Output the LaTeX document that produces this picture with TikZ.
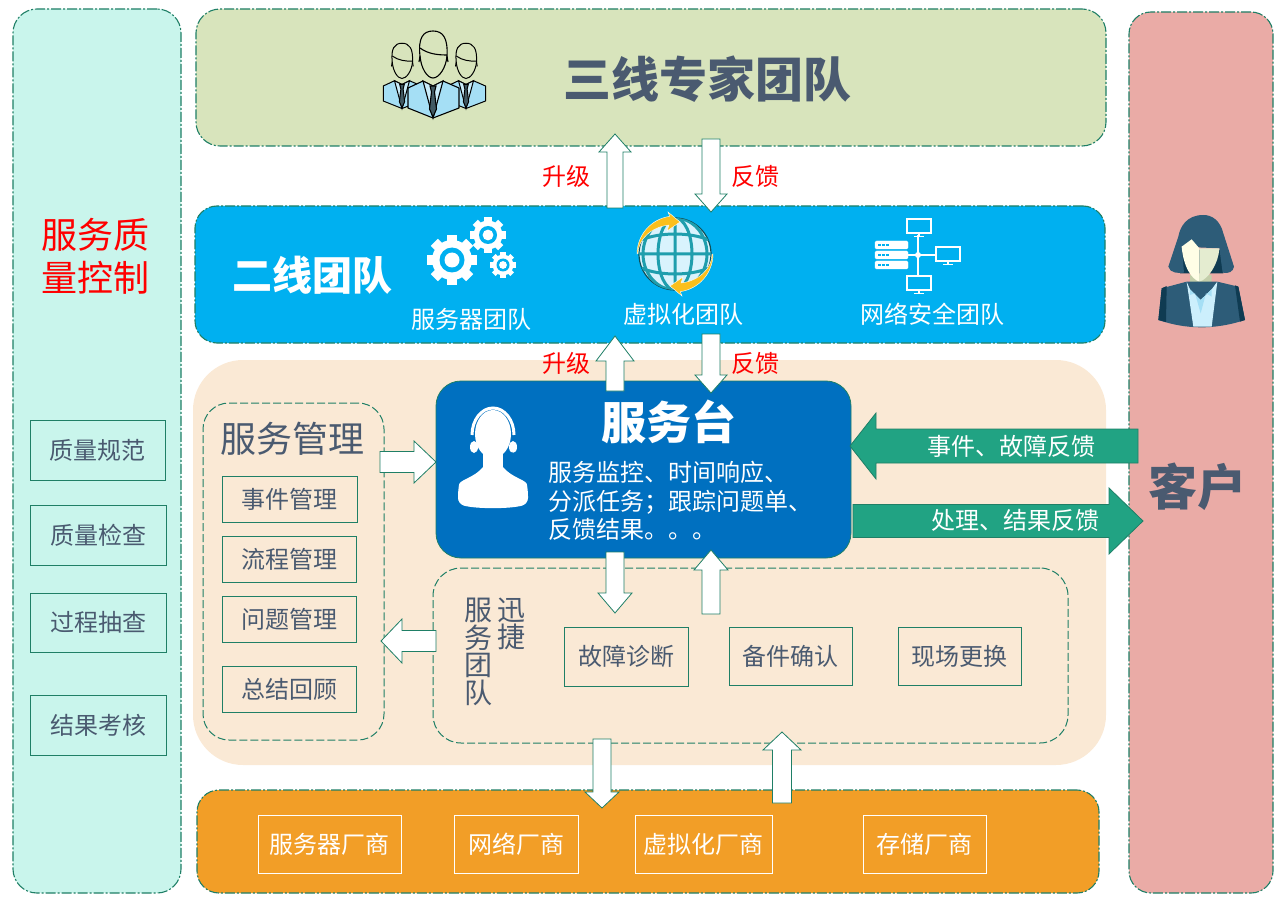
\documentclass[tikz,border=0pt]{standalone}
\usepackage{fontspec}
\setmainfont{Noto Sans CJK SC}
\usetikzlibrary{calc}
\definecolor{LineGreen}{HTML}{1F7F66}
\definecolor{ArrowGreen}{HTML}{21A383}
\definecolor{SlateText}{HTML}{4A5A70}
\definecolor{SuitBlue}{HTML}{A5DFF5}
\definecolor{HairBlue}{HTML}{2D5C78}
\definecolor{DeepBlue}{HTML}{0F3B52}
\definecolor{QualityFill}{HTML}{C9F5EC}
\definecolor{TopGreen}{HTML}{D8E4BC}
\definecolor{BlueBand}{HTML}{00B0F0}
\definecolor{PeachFill}{HTML}{FAE9D5}
\definecolor{PinkFill}{HTML}{EAABA6}
\definecolor{OrangeFill}{HTML}{F29E27}
\definecolor{DeskBlue}{HTML}{0070C0}
\definecolor{GlobeYellow}{HTML}{FBBF1C}
\definecolor{GlobeTeal}{HTML}{1F9EAD}
\tikzset{
  panel/.style={rectangle,rounded corners=24,draw=LineGreen,line width=1.1,
    dash pattern=on 10pt off 2pt on 2pt off 2pt,
    preaction={draw=white,solid,line width=1.6},inner sep=0,outer sep=0},
  dashpanel/.style={rectangle,draw=LineGreen,line width=1,dash pattern=on 8pt off 3pt,
    inner sep=0,outer sep=0},
  itembox/.style={rectangle,draw=LineGreen,line width=1,inner sep=0,outer sep=0,
    text=SlateText,font=\fontsize{24}{28}\selectfont},
  vendorbox/.style={rectangle,draw=white,line width=0.8,inner sep=0,outer sep=0,
    text=white,font=\fontsize{24}{28}\selectfont},
  redlabel/.style={text=red,font=\fontsize{24}{28}\selectfont},
  whitelabel/.style={text=white,font=\fontsize{24}{28}\selectfont},
  blockarrow/.style n args={3}{to path={let \p1=($(\tikztotarget)!#3!(\tikztostart)$) in
    ($(\tikztostart)!#1!90:(\tikztotarget)$) -- ($(\p1)!#1!90:(\tikztotarget)$)
    -- ($(\p1)!#2!90:(\tikztotarget)$) -- (\tikztotarget)
    -- ($(\p1)!#2!-90:(\tikztotarget)$) -- ($(\p1)!#1!-90:(\tikztotarget)$)
    -- ($(\tikztostart)!#1!-90:(\tikztotarget)$) -- cycle}},
  whitearrow/.style={draw=LineGreen,fill=white,line width=0.8},
  greenarrow/.style={draw=LineGreen,fill=ArrowGreen,line width=0.8}
}
\newcommand{\gearicon}[3]{%
  \foreach \a in {0,45,...,315}
    \fill[white,rotate around={\a:(#1,#2)}] (#1-0.2*#3,#2-#3) rectangle (#1+0.2*#3,#2-0.7*#3);
  \fill[white] (#1,#2) circle [radius=0.8*#3];
  \fill[BlueBand] (#1,#2) circle [radius=0.5*#3];
  \fill[white] (#1,#2) circle [radius=0.3*#3];
}
\newcommand{\suitman}[4]{%
  \begin{scope}[shift={(#1,#2)},x=#3pt,y=-#3pt,line width=#4,draw=black]
    \draw[fill=SuitBlue,line join=round] (-25,20) -- (-10,13) -- (0,18) -- (10,13) -- (26,20)
      -- (26,40) -- (0,50) -- (-25,40) -- cycle;
    \draw[fill=SuitBlue!60!white] (-10,13) -- (0,50) -- (10,13) -- (0,18) -- cycle;
    \draw[fill=SuitBlue!40!black] (-3,18) -- (3,18) -- (1.5,24) -- (3.5,41) -- (0,49)
      -- (-3.5,41) -- (-1.5,24) -- cycle;
    \draw[fill=TopGreen] (-13,-12) .. controls (-15,-30) and (-10,-37) .. (0,-37)
      .. controls (10,-37) and (15,-30) .. (14,-12)
      .. controls (13,0) and (6,10) .. (0,10)
      .. controls (-6,10) and (-12,0) .. (-13,-12) -- cycle;
    \draw (-13,-20) .. controls (-5,-14) and (5,-13) .. (14,-13);
    \draw (-13,-12) -- (-14,-6) (14,-12) -- (15,-6);
  \end{scope}
}
\newcommand{\monitoricon}[2]{%
  \draw[white,line width=1.4] (#1-12,#2-7) rectangle (#1+12,#2+7);
  \draw[white,line width=1.4] (#1,#2+7) -- (#1,#2+10) (#1-5,#2+10.5) -- (#1+5,#2+10.5);
}
\begin{document}
\begin{tikzpicture}[x=1pt,y=-1pt]
  \useasboundingbox (0,0) rectangle (1285,909);
  %Panels
  \node[panel,fill=QualityFill,minimum width=168,minimum height=884] (Quality) at (97,451) {};
  \node[panel,fill=PinkFill,minimum width=144,minimum height=881,rounded corners=22] (Customer) at (1201,452.5) {};
  \node[panel,fill=TopGreen,minimum width=910,minimum height=137] (ThirdLine) at (651,77.5) {};
  \node[panel,fill=BlueBand,minimum width=910,minimum height=137,rounded corners=22] (SecondLine) at (650,274.5) {};
  \node[rectangle,fill=PeachFill,rounded corners=50,minimum width=913,minimum height=405,inner sep=0] (Onsite) at (649.5,562.5) {};
  \node[panel,fill=OrangeFill,minimum width=902,minimum height=103,rounded corners=22] (Vendors) at (648,841.5) {};
  \node[dashpanel,rounded corners=26,minimum width=181,minimum height=337] (Manage) at (293.5,571.5) {};
  \node[dashpanel,rounded corners=28,minimum width=635,minimum height=175] (Quick) at (750.5,655.5) {};
  \node[rectangle,rounded corners=25,draw=LineGreen,fill=DeskBlue,line width=0.8,minimum width=415,minimum height=177,inner sep=0] (Desk) at (643.5,469.5) {};

  %Titles
  \node[text=SlateText,font=\fontsize{48}{52}\selectfont\bfseries] (ThirdTitle) at (707.5,79) {三线专家团队};
  \node[text=white,font=\fontsize{40}{44}\selectfont\bfseries] (SecondTitle) at (312,275) {二线团队};
  \node[text=white,font=\fontsize{45}{48}\selectfont\bfseries] (DeskTitle) at (669,422) {服务台};
  \node[text=SlateText,font=\fontsize{49}{52}\selectfont\bfseries] (CustomerTitle) at (1197,487) {客户};
  \node[text=SlateText,font=\fontsize{36}{40}\selectfont] (ManageTitle) at (292,439) {服务管理};
  \node[text=red,align=center,font=\fontsize{36}{43}\selectfont] (QualityTitle) at (95,256) {服务质\\量控制};
  \node[text=SlateText,align=center,font=\fontsize{28}{27.5}\selectfont] (QuickLeft) at (478,652) {服\\务\\团\\队};
  \node[text=SlateText,align=center,font=\fontsize{28}{27.5}\selectfont] (QuickRight) at (511,624) {迅\\捷};
  \node[anchor=west,inner sep=0,align=left,text=white,font=\fontsize{24}{28.5}\selectfont] (DeskText) at (548,501)
    {服务监控、时间响应、\\分派任务；跟踪问题单、\\反馈结果。。。};
  \node[whitelabel] (ServerTeam) at (471,319) {服务器团队};
  \node[whitelabel] (CloudTeam) at (683,314) {虚拟化团队};
  \node[whitelabel] (SecurityTeam) at (932,314) {网络安全团队};

  %Boxes
  \node[itembox,minimum width=135,minimum height=60] (QualityA) at (97.5,450) {质量规范};
  \node[itembox,minimum width=136,minimum height=60] (QualityB) at (98,535) {质量检查};
  \node[itembox,minimum width=136,minimum height=59] (QualityC) at (98,622.5) {过程抽查};
  \node[itembox,minimum width=136,minimum height=60] (QualityD) at (98,725) {结果考核};
  \node[itembox,minimum width=135,minimum height=46] (ManageA) at (289.5,499) {事件管理};
  \node[itembox,minimum width=134,minimum height=46] (ManageB) at (289,559) {流程管理};
  \node[itembox,minimum width=134,minimum height=46] (ManageC) at (289,619) {问题管理};
  \node[itembox,minimum width=134,minimum height=46] (ManageD) at (289,689) {总结回顾};
  \node[itembox,minimum width=124,minimum height=59] (QuickA) at (626,656.5) {故障诊断};
  \node[itembox,minimum width=123,minimum height=58] (QuickB) at (790.5,656) {备件确认};
  \node[itembox,minimum width=123,minimum height=58] (QuickC) at (959.5,656) {现场更换};
  \node[vendorbox,minimum width=143,minimum height=58] (VendorA) at (329.5,844) {服务器厂商};
  \node[vendorbox,minimum width=124,minimum height=58] (VendorB) at (516,844) {网络厂商};
  \node[vendorbox,minimum width=137,minimum height=58] (VendorC) at (703.5,844) {虚拟化厂商};
  \node[vendorbox,minimum width=123,minimum height=58] (VendorD) at (924.5,844) {存储厂商};

  %Arrows
  \coordinate (UpThirdTail) at (615,208);   \coordinate (UpThirdTip) at (615,134);
  \coordinate (DownThirdTail) at (711,139); \coordinate (DownThirdTip) at (711,212);
  \coordinate (UpSecondTail) at (615,391);  \coordinate (UpSecondTip) at (615,336);
  \coordinate (DownSecondTail) at (711,334);\coordinate (DownSecondTip) at (711,393);
  \coordinate (ManageTail) at (380,462);    \coordinate (ManageTip) at (436,462);
  \coordinate (QuickTail) at (436,641);     \coordinate (QuickTip) at (381,641);
  \coordinate (DeskDownTail) at (615,552);  \coordinate (DeskDownTip) at (615,613);
  \coordinate (DeskUpTail) at (711,614);    \coordinate (DeskUpTip) at (711,550);
  \coordinate (VendorDownTail) at (602,739);\coordinate (VendorDownTip) at (602,808);
  \coordinate (VendorUpTail) at (782,803);  \coordinate (VendorUpTip) at (782,732);
  \coordinate (EventTail) at (1138,446);    \coordinate (EventTip) at (850,446);
  \coordinate (ResultTail) at (853,521);    \coordinate (ResultTip) at (1143,521);
  \draw[whitearrow,blockarrow={8pt}{16pt}{18pt}] (UpThirdTail) to (UpThirdTip);
  \draw[whitearrow,blockarrow={9pt}{16pt}{18pt}] (DownThirdTail) to (DownThirdTip);
  \draw[whitearrow,blockarrow={9pt}{19pt}{25pt}] (UpSecondTail) to (UpSecondTip);
  \draw[whitearrow,blockarrow={9pt}{16pt}{18pt}] (DownSecondTail) to (DownSecondTip);
  \draw[whitearrow,blockarrow={10.5pt}{21pt}{22pt}] (ManageTail) to (ManageTip);
  \draw[whitearrow,blockarrow={10.5pt}{22pt}{21pt}] (QuickTail) to (QuickTip);
  \draw[whitearrow,blockarrow={9pt}{17pt}{20pt}] (DeskDownTail) to (DeskDownTip);
  \draw[whitearrow,blockarrow={9pt}{17pt}{20pt}] (DeskUpTail) to (DeskUpTip);
  \draw[whitearrow,blockarrow={9pt}{17pt}{16pt}] (VendorDownTail) to (VendorDownTip);
  \draw[whitearrow,blockarrow={9.5pt}{19pt}{18pt}] (VendorUpTail) to (VendorUpTip);
  \draw[greenarrow,blockarrow={17pt}{33pt}{26pt}] (EventTail) to (EventTip);
  \draw[greenarrow,blockarrow={16.5pt}{33pt}{34pt}] (ResultTail) to (ResultTip);

  %Arrow labels
  \node[redlabel] (UpThirdLabel) at (566,176) {升级};
  \node[redlabel] (DownThirdLabel) at (755,176) {反馈};
  \node[redlabel] (UpSecondLabel) at (566,363) {升级};
  \node[redlabel] (DownSecondLabel) at (755,363) {反馈};
  \node[whitelabel] (EventLabel) at (1011,446) {事件、故障反馈};
  \node[whitelabel] (ResultLabel) at (1015,520) {处理、结果反馈};

  %Experts icon
  \suitman{402}{71}{0.75}{1}
  \suitman{466}{71}{0.75}{1}
  \suitman{433}{68}{1}{1.1}

  %Gears
  \gearicon{452}{260}{25}
  \gearicon{488}{235}{18}
  \gearicon{503}{265}{13}

  %Globe
  \draw[draw=GlobeTeal!50!black,fill=cyan!15!white,line width=1.2] (675,254) circle [radius=36];
  \begin{scope}
    \clip (675,254) circle [radius=36];
    \draw[GlobeTeal,line width=3] (639,254) -- (711,254) (675,218) -- (675,290)
      (641,240) .. controls (660,232) and (690,232) .. (709,240)
      (641,268) .. controls (660,276) and (690,276) .. (709,268)
      (675,254) ellipse [x radius=17,y radius=36] (675,254) ellipse [x radius=32,y radius=36];
  \end{scope}
  \foreach \r in {0,180}
    \fill[GlobeYellow,draw=white,line width=0.4,rotate around={\r:(675,254)}] (637,254) arc [start angle=180,end angle=262,radius=38]
      -- (668,212) -- (680,222) -- (667,231) -- (669,225) arc [start angle=262,end angle=180,x radius=36,y radius=29] -- cycle;

  %Network icon
  \foreach \y in {241,251,261}
    \draw[white,fill=white,rounded corners=1.5] (875,\y) rectangle (908,\y+8);
  \foreach \y in {245,255,265}
    \draw[BlueBand,line width=2,dash pattern=on 2.5pt off 1.5pt] (878,\y) -- (890,\y);
  \draw[white,line width=2] (918,235) -- (918,275) (908,255) -- (936,255);
  \fill[white] (918,255) circle [radius=3];
  \monitoricon{919}{226}
  \monitoricon{948}{254}
  \monitoricon{919}{283}

  %Agent icon
  \draw[white,line width=3] (472,435) arc [start angle=180,end angle=360,x radius=21,y radius=27];
  \fill[white] (493,434) ellipse [x radius=18,y radius=24];
  \fill[white] (474,447) ellipse [x radius=4,y radius=6] (513,447) ellipse [x radius=4,y radius=6];
  \fill[white] (483,450) rectangle (503,470);
  \fill[white,rounded corners=6] (458,490) .. controls (460,480) and (475,477) .. (486,463) -- (500,463)
    .. controls (511,477) and (526,480) .. (528,490) -- (528,504) .. controls (510,509) and (476,509) .. (458,504) -- cycle;
  \draw[DeskBlue,line width=0.8] (504,465) .. controls (510,463) and (512,458) .. (513,452);

  %Customer icon
  \begin{scope}[shift={(1140,200)},x=0.3333pt,y=-0.3333pt]
    \fill[DeepBlue] (120,150) -- (120,220) -- (250,220) -- (245,150) -- cycle;
    \fill[HairBlue] (190,45) .. controls (140,45) and (120,80) .. (115,110) -- (85,200)
      .. controls (90,220) and (115,220) .. (132,218) -- (125,140) -- (238,145) -- (248,218)
      .. controls (265,222) and (280,215) .. (282,200) -- (250,100) .. controls (240,60) and (215,45) .. (190,45) -- cycle;
    \fill[TopGreen!90!black] (150,225) -- (215,225) -- (215,265) -- (180,300) -- (150,265) -- cycle;
    \fill[white!90!yellow] (125,140) -- (155,118) -- (178,145) -- (178,245)
      .. controls (155,238) and (130,200) .. (125,140) -- cycle;
    \fill[TopGreen!70!white] (178,145) -- (238,145) .. controls (236,190) and (205,238) .. (178,245) -- cycle;
    \fill[HairBlue] (65,265) -- (140,245) -- (232,245) -- (295,260) -- (315,360)
      .. controls (260,378) and (215,382) .. (185,382) .. controls (140,382) and (100,375) .. (55,360) -- cycle;
    \fill[DeepBlue] (65,265) -- (80,258) -- (78,366) -- (55,360) -- cycle;
    \fill[DeepBlue] (295,260) -- (285,256) -- (300,365) -- (315,360) -- cycle;
    \fill[cyan!20!white] (140,245) -- (150,268) -- (182,300) -- (215,268) -- (232,245)
      -- (215,380) -- (160,380) -- cycle;
    \fill[SuitBlue] (150,285) -- (165,280) -- (182,340) -- (198,280) -- (215,290) -- (215,268) -- (182,300) -- (150,268) -- cycle;
  \end{scope}
\end{tikzpicture}
\end{document}
